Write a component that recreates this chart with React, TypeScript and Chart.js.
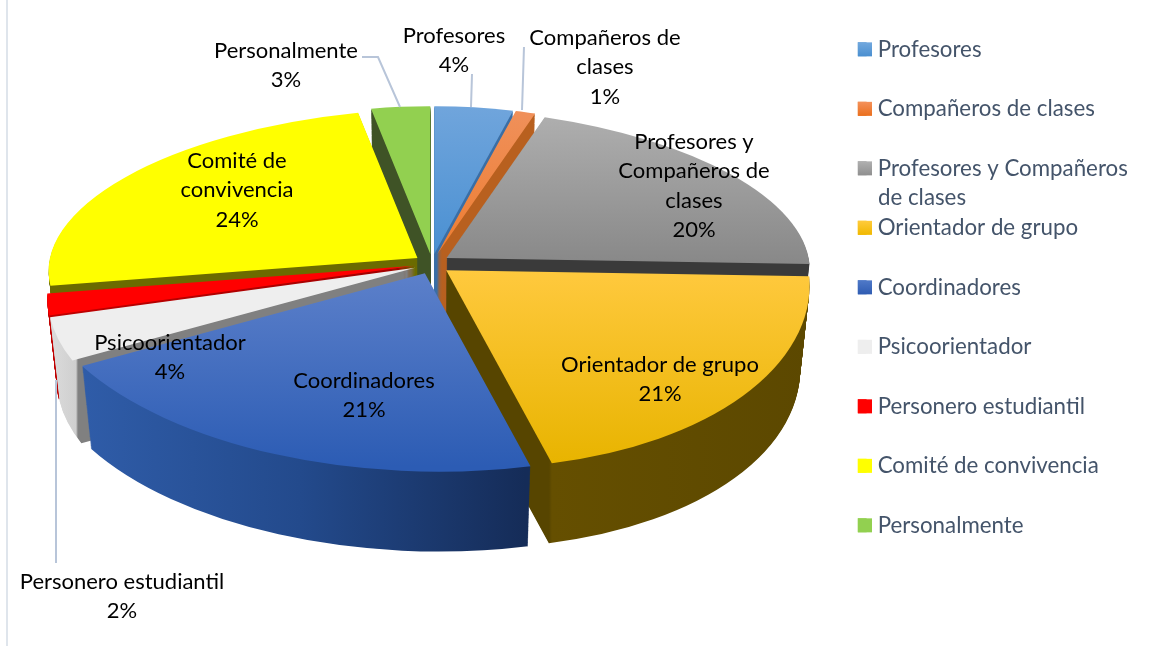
import React, { useEffect, useRef } from "react";
import { Chart, registerables } from "chart.js";

Chart.register(...registerables);

const categories = [
  "Profesores",
  "Compañeros de clases",
  "Profesores y Compañeros de clases",
  "Orientador de grupo",
  "Coordinadores",
  "Psicoorientador",
  "Personero estudiantil",
  "Comité de convivencia",
  "Personalmente",
];
const values = [4, 1, 20, 21, 21, 4, 2, 24, 3];
const baseColors = ["#5b9bd5", "#ed7d31", "#a5a5a5", "#ffc000", "#4472c4", "#ededed", "#ff0000", "#ffff00", "#92d050"];

// Vertical gradient of each top face.
const topShades = [
  ["#70a5dc", "#4a90d2"],
  ["#f0905a", "#ed7d31"],
  ["#aeaeae", "#888888"],
  ["#ffc93e", "#e8b400"],
  ["#5c80ca", "#2c5cb4"],
  ["#eeeeee", "#eeeeee"],
  ["#ff0000", "#ff0000"],
  ["#ffff00", "#ffff00"],
  ["#92d050", "#92d050"],
];
// Legend swatch gradients.
const swatchShades = [
  ["#72a8de", "#4a8fd0"],
  ["#f4915a", "#ea6f1e"],
  ["#b0b0b0", "#8f8f8f"],
  ["#ffcb3c", "#f0b800"],
  ["#4f79c8", "#2f5cb2"],
  ["#eeeeee", "#eeeeee"],
  ["#ff0000", "#ff0000"],
  ["#ffff00", "#ffff00"],
  ["#92d050", "#92d050"],
];
// Horizontal gradient of each side wall: [screen x, colour].
const wallShades: [number, string][][] = [
  [[430, "#3a6ea5"], [520, "#3a6ea5"]],
  [[430, "#b8601f"], [540, "#b8601f"]],
  [[430, "#3a3a3a"], [810, "#3a3a3a"]],
  [[447, "#574500"], [549, "#574500"], [552, "#654f00"], [810, "#5c4800"]],
  [[85, "#2f5ca8"], [300, "#234a8c"], [525, "#152c58"]],
  [[50, "#dcdcdc"], [76, "#cfcfcf"], [78, "#808080"], [420, "#808080"]],
  [[45, "#c00000"], [420, "#a00000"]],
  [[50, "#6b6b00"], [420, "#6b6b00"]],
  [[370, "#3f5326"], [432, "#3f5326"]],
];
// Back to front.
const paintOrder = [8, 0, 1, 2, 7, 6, 5, 3, 4];

const FONT = "Lato";
const LABEL_SIZE = 22;
const LEGEND_SIZE = 22.3;

// Projection of the tilted disc.
const HUB_X = 432;
const HUB_Y = 264;
const RADIUS_X = 363;
const RADIUS_Y = 170;
const PERSPECTIVE = 0.15;
const SIDE_SAG = 6;
const EXPLODE_X = 18;
const EXPLODE_Y = 10;
const DEPTH = 85;
const DEPTH_SHRINK = 0.025;

const labelPlaces = [
  { x: 454, y: 36, lines: ["Profesores"] },
  { x: 605, y: 38, lines: ["Compañeros de", "clases"] },
  { x: 694, y: 142, lines: ["Profesores y", "Compañeros de", "clases"] },
  { x: 660, y: 365, lines: ["Orientador de grupo"] },
  { x: 364, y: 381, lines: ["Coordinadores"] },
  { x: 170, y: 343, lines: ["Psicoorientador"] },
  { x: 122, y: 582, lines: ["Personero estudiantil"] },
  { x: 237, y: 161, lines: ["Comité de", "convivencia"] },
  { x: 286, y: 51, lines: ["Personalmente"] },
];
const leaderPaths = [
  [[472, 74], [471, 107]],
  [[524, 47], [522, 110]],
  [[362, 57], [378, 57], [400, 107]],
  [[56, 380], [56, 563]],
];

type P = [number, number];

function project(ux: number, uy: number, explodeAngle: number): P {
  const w = 1 / (1 - PERSPECTIVE * uy);
  return [
    HUB_X + Math.cos(explodeAngle) * EXPLODE_X + RADIUS_X * ux * w,
    HUB_Y + Math.sin(explodeAngle) * EXPLODE_Y + RADIUS_Y * uy * w + SIDE_SAG * ux * ux,
  ];
}

function affine(c: P[], s: P[]) {
  const v1 = [c[1][0] - c[0][0], c[1][1] - c[0][1]];
  const v2 = [c[2][0] - c[0][0], c[2][1] - c[0][1]];
  const w1 = [s[1][0] - s[0][0], s[1][1] - s[0][1]];
  const w2 = [s[2][0] - s[0][0], s[2][1] - s[0][1]];
  const det = v1[0] * v2[1] - v2[0] * v1[1];
  const i = [v2[1] / det, -v2[0] / det, -v1[1] / det, v1[0] / det];
  const a = w1[0] * i[0] + w2[0] * i[2];
  const c2 = w1[0] * i[1] + w2[0] * i[3];
  const b = w1[1] * i[0] + w2[1] * i[2];
  const d = w1[1] * i[1] + w2[1] * i[3];
  const e = s[0][0] - a * c[0][0] - c2 * c[0][1];
  const f = s[0][1] - b * c[0][0] - d * c[0][1];
  return { a, b, c: c2, d, e, f };
}

// A gradient that runs along a screen axis whatever the transform in force.
function screenGradient(ctx: CanvasRenderingContext2D, m: any, axis: "x" | "y", from: number, to: number) {
  const gx = axis === "x" ? m.a : m.b;
  const gy = axis === "x" ? m.c : m.d;
  const off = axis === "x" ? m.e : m.f;
  const n = gx * gx + gy * gy;
  const t0 = (from - off) / n;
  const t1 = (to - off) / n;
  return ctx.createLinearGradient(gx * t0, gy * t0, gx * t1, gy * t1);
}

function arcOptions(fill: any) {
  return {
    backgroundColor: fill,
    borderColor: "transparent",
    borderWidth: 0,
    borderAlign: "center",
    borderJoinStyle: "round",
    borderDash: [],
    borderDashOffset: 0,
    borderRadius: 0,
    offset: 0,
    spacing: 0,
    circular: true,
  };
}

const solidPie = {
  id: "solidPie",
  beforeDatasetDraw(chart: any, args: any) {
    const ctx: CanvasRenderingContext2D = chart.ctx;
    const arcs = args.meta.data;
    for (const idx of paintOrder) {
      const arc = arcs[idx];
      const saved = arc.options;
      const { x, y, outerRadius: r, startAngle: a0, endAngle: a1 } = arc;
      const mid = (a0 + a1) / 2;
      const chartPts: P[] = [
        [x, y],
        [x + r * Math.cos(a0), y + r * Math.sin(a0)],
        [x + r * Math.cos(a1), y + r * Math.sin(a1)],
      ];
      const hub = project(0, 0, mid);
      const top: P[] = [hub, project(Math.cos(a0), Math.sin(a0), mid), project(Math.cos(a1), Math.sin(a1), mid)];
      for (let layer = DEPTH; layer >= 0; layer--) {
        const t = layer / DEPTH;
        const k = 1 - DEPTH_SHRINK * t;
        const pts = top.map((p): P => [
          HUB_X + (p[0] - HUB_X) * k,
          HUB_Y + (p[1] - HUB_Y) * k + DEPTH * t,
        ]);
        const m = affine(chartPts, pts);
        let g: CanvasGradient;
        if (layer === 0) {
          const span = pts.map((p) => p[1]);
          g = screenGradient(ctx, m, "y", Math.min(...span), Math.max(...span));
          g.addColorStop(0, topShades[idx][0]);
          g.addColorStop(1, topShades[idx][1]);
        } else {
          const s = wallShades[idx];
          const from = s[0][0];
          const to = s[s.length - 1][0];
          g = screenGradient(ctx, m, "x", from, to);
          s.forEach(([px, col]) => g.addColorStop((px - from) / (to - from), col));
        }
        ctx.save();
        ctx.setTransform(m.a, m.b, m.c, m.d, m.e, m.f);
        arc.options = arcOptions(g);
        arc.draw(ctx);
        ctx.restore();
      }
      arc.options = saved;
    }
    return false;
  },
  afterDraw(chart: any) {
    const ctx: CanvasRenderingContext2D = chart.ctx;
    const total = values.reduce((a, b) => a + b, 0);
    ctx.save();
    // frame edge
    ctx.strokeStyle = "#dfe5ec";
    ctx.lineWidth = 2;
    ctx.beginPath();
    ctx.moveTo(7, 0);
    ctx.lineTo(7, 646);
    ctx.stroke();
    // leader lines
    ctx.strokeStyle = "#b8c5d9";
    ctx.lineWidth = 2;
    leaderPaths.forEach((path) => {
      ctx.beginPath();
      path.forEach(([px, py], i) => (i ? ctx.lineTo(px, py) : ctx.moveTo(px, py)));
      ctx.stroke();
    });
    // data labels
    ctx.font = `${LABEL_SIZE}px ${FONT}`;
    ctx.fillStyle = "#000000";
    ctx.textAlign = "center";
    ctx.textBaseline = "middle";
    labelPlaces.forEach((place, i) => {
      const pct = `${Math.round((values[i] / total) * 100)}%`;
      [...place.lines, pct].forEach((line, j) => ctx.fillText(line, place.x, place.y + j * 29.3));
    });
    // legend swatches with their gradient, and the wrapped line of the third entry
    const boxes = chart.legend.legendHitBoxes;
    boxes.forEach((box: any, i: number) => {
      const cy = box.top + box.height / 2;
      const g = ctx.createLinearGradient(0, cy - 7, 0, cy + 7);
      g.addColorStop(0, swatchShades[i][0]);
      g.addColorStop(1, swatchShades[i][1]);
      ctx.fillStyle = g;
      ctx.fillRect(858, cy - 7, 14, 14);
    });
    ctx.font = `${LEGEND_SIZE}px ${FONT}`;
    ctx.fillStyle = "#44546a";
    ctx.textAlign = "left";
    ctx.fillText("de clases", 878, boxes[2].top + boxes[2].height / 2 + 29);
    ctx.restore();
  },
  afterLayout(chart: any) {
    const legend = chart.legend;
    legend.left = 820.5;
    legend.right = legend.left + legend.width;
    legend.top = 1;
    legend.bottom = legend.top + legend.height;
    legend.adjustHitBoxes();
  },
};

export default function App() {
  const ref = useRef<HTMLCanvasElement>(null);
  useEffect(() => {
    const chart = new Chart(ref.current as HTMLCanvasElement, {
      type: "pie",
      data: {
        labels: categories,
        datasets: [{ data: values, backgroundColor: baseColors, borderWidth: 0 }],
      },
      options: {
        responsive: false,
        animation: false,
        layout: { padding: 0 },
        plugins: {
          tooltip: { enabled: false },
          title: { display: false },
          legend: {
            display: true,
            position: "right",
            align: "start",
            labels: {
              boxWidth: 8.85,
              boxHeight: 14,
              padding: 37.2,
              color: "#44546a",
              font: { family: FONT, size: LEGEND_SIZE },
              generateLabels: (c: any) =>
                (Chart as any).overrides.pie.plugins.legend.labels.generateLabels(c).map((item: any, i: number) => ({
                  ...item,
                  text: i === 2 ? "Profesores y Compañeros" : item.text,
                  lineWidth: 0,
                  strokeStyle: "transparent",
                })),
            },
          },
        },
      } as any,
      plugins: [solidPie],
    });
    return () => chart.destroy();
  }, []);
  return (
    <div style={{ position: "absolute", left: 0, top: 0, width: 1158, height: 646, background: "#ffffff" }}>
      <canvas ref={ref} width={1158} height={646} style={{ display: "block" }} />
    </div>
  );
}
